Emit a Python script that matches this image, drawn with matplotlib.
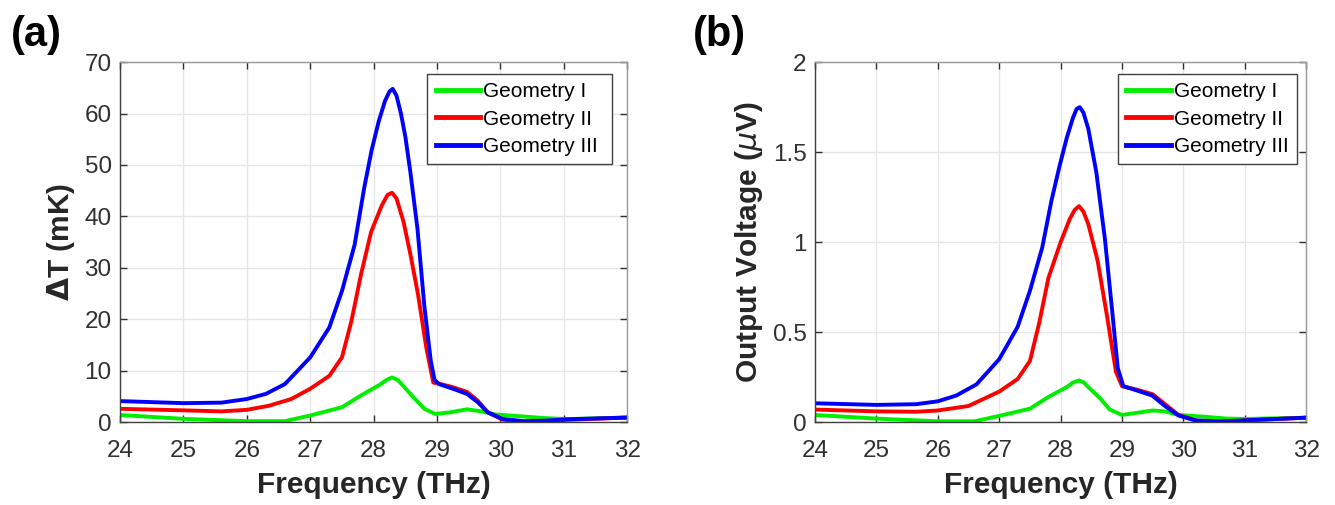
import numpy as np
import matplotlib
matplotlib.use('Agg')
import matplotlib.pyplot as plt

plt.rcParams['font.family'] = ['Liberation Sans', 'DejaVu Sans']
plt.rcParams['mathtext.fontset'] = 'dejavusans'

labels = ['Geometry I', 'Geometry II', 'Geometry III']
colors = ['#00ee00', '#ff0000', '#0000ff']

# (a) Delta T (mK)
x_g1 = [24, 25, 26, 26.6, 27, 27.5, 27.8, 28.1, 28.2, 28.29, 28.38, 28.47, 28.63, 28.8, 28.97, 29.2, 29.47, 29.7, 29.92, 30.36, 30.7, 31.03, 32]
dt_g1 = [1.4, 0.65, 0.2, 0.2, 1.3, 2.9, 5.2, 7.3, 8.2, 8.7, 8.2, 7.0, 4.8, 2.6, 1.6, 1.9, 2.5, 2.1, 1.5, 1.1, 0.8, 0.6, 0.9]
x_g2 = [24, 25, 25.6, 26, 26.35, 26.7, 27, 27.3, 27.5, 27.65, 27.8, 27.96, 28.13, 28.22, 28.29, 28.36, 28.47, 28.58, 28.7, 28.83, 28.94, 29.03, 29.25, 29.47, 29.64, 29.8, 30.03, 30.4, 30.8, 31.03, 32]
dt_g2 = [2.6, 2.3, 2.1, 2.4, 3.2, 4.5, 6.5, 9, 12.6, 19.7, 28.7, 37, 42.2, 44.2, 44.6, 43.5, 39, 32.6, 24.8, 14.5, 7.7, 7.5, 6.8, 5.9, 4.2, 1.9, 0.5, 0.0, 0.1, 0.45, 0.9]
x_g3 = [24, 25, 25.6, 26, 26.3, 26.6, 27, 27.3, 27.5, 27.7, 27.85, 27.97, 28.08, 28.18, 28.25, 28.3, 28.36, 28.43, 28.5, 28.58, 28.69, 28.8, 28.9, 28.96, 29.03, 29.25, 29.47, 29.64, 29.8, 30.03, 30.36, 30.7, 31.03, 32]
dt_g3 = [4.1, 3.7, 3.8, 4.5, 5.5, 7.4, 12.6, 18.4, 25.5, 34.5, 45.5, 53, 58.5, 62.5, 64.3, 64.8, 63.5, 60, 55.5, 48.5, 37.7, 22.5, 12, 8.2, 7.4, 6.5, 5.5, 3.9, 1.9, 0.65, 0.2, 0.3, 0.55, 0.9]

# (b) Output voltage (uV)
xv_g1 = [24, 25, 26, 26.6, 27, 27.5, 27.8, 28.1, 28.2, 28.3, 28.38, 28.45, 28.65, 28.8, 29, 29.2, 29.5, 29.7, 29.92, 30.35, 30.7, 31, 32]
v_g1 = [0.04, 0.02, 0.005, 0.005, 0.035, 0.075, 0.14, 0.195, 0.22, 0.232, 0.22, 0.195, 0.13, 0.07, 0.04, 0.05, 0.065, 0.06, 0.04, 0.03, 0.02, 0.018, 0.025]
xv_g2 = [24, 25, 25.65, 26, 26.5, 27, 27.3, 27.5, 27.65, 27.8, 28, 28.15, 28.23, 28.3, 28.37, 28.45, 28.6, 28.75, 28.9, 29, 29.25, 29.5, 29.7, 29.92, 30.3, 30.6, 31, 32]
v_g2 = [0.07, 0.06, 0.058, 0.065, 0.09, 0.17, 0.24, 0.34, 0.55, 0.8, 1.0, 1.13, 1.18, 1.2, 1.17, 1.1, 0.9, 0.6, 0.28, 0.2, 0.18, 0.155, 0.1, 0.04, 0.0, -0.005, 0.01, 0.025]
xv_g3 = [24, 25, 25.65, 26, 26.3, 26.63, 27, 27.3, 27.5, 27.7, 27.85, 27.98, 28.1, 28.2, 28.26, 28.31, 28.37, 28.45, 28.58, 28.72, 28.85, 28.93, 29.02, 29.25, 29.49, 29.69, 29.92, 30.19, 30.6, 31, 32]
v_g3 = [0.105, 0.096, 0.1, 0.116, 0.148, 0.21, 0.35, 0.53, 0.73, 0.97, 1.23, 1.42, 1.58, 1.69, 1.74, 1.75, 1.72, 1.63, 1.39, 1.02, 0.58, 0.3, 0.2, 0.175, 0.148, 0.092, 0.037, 0.01, 0.004, 0.01, 0.025]

xticks = [24, 25, 26, 27, 28, 29, 30, 31, 32]


def style_axes(ax, ylim, yticks, ylabel, label_x, leg_box):
    ax.set_xlim(24, 32)
    ax.set_ylim(*ylim)
    ax.set_xticks(xticks)
    ax.set_yticks(yticks)
    ax.grid(True, color='#e6e6e6', linewidth=1.0)
    ax.set_axisbelow(True)
    ax.tick_params(direction='in', top=True, right=True, labelsize=17.5,
                   colors='#303030', length=5, width=1)
    ax.tick_params(axis='x', pad=13)
    ax.tick_params(axis='y', pad=6)
    for name, s in ax.spines.items():
        s.set_linewidth(1.0)
        s.set_color('#404040' if name in ('left', 'bottom') else '#9a9a9a')
    ax.set_xlabel('Frequency (THz)', fontsize=21.5, fontweight='bold',
                  color='#262626', labelpad=6)
    ax.set_ylabel(ylabel, fontsize=21.5, fontweight='bold', color='#262626')
    ax.yaxis.set_label_coords(label_x, 0.5)
    leg = ax.legend(loc='upper left', bbox_to_anchor=leg_box, mode='expand',
                    fontsize=15, frameon=True, fancybox=False,
                    edgecolor='#404040', framealpha=1, handlelength=2.15,
                    handletextpad=0.15, borderpad=0.4, labelspacing=0.4,
                    borderaxespad=0)
    leg.get_frame().set_linewidth(1.0)
    for line in leg.get_lines():
        line.set_linewidth(3.5)


fig = plt.figure(figsize=(13.35, 5.05), dpi=100)
ax1 = fig.add_axes([0.0899, 0.164, 0.380, 0.713])
ax2 = fig.add_axes([0.6105, 0.164, 0.368, 0.713])

for xs, ys, c, l in zip([x_g1, x_g2, x_g3], [dt_g1, dt_g2, dt_g3], colors, labels):
    ax1.plot(xs, ys, color=c, linewidth=2.8, label=l, solid_joinstyle='round')
for xs, ys, c, l in zip([xv_g1, xv_g2, xv_g3], [v_g1, v_g2, v_g3], colors, labels):
    ax2.plot(xs, ys, color=c, linewidth=2.8, label=l, solid_joinstyle='round')

style_axes(ax1, (0, 70), [0, 10, 20, 30, 40, 50, 60, 70],
           r'$\mathbf{\Delta}$T (mK)', -0.085, (0.6055, 0.0, 0.3645, 0.967))
style_axes(ax2, (0, 2), [0, 0.5, 1, 1.5, 2],
           r'Output Voltage ($\mu$V)', -0.102, (0.616, 0.0, 0.366, 0.967))
ax2.set_yticklabels(['0', '0.5', '1', '1.5', '2'])

fig.text(0.008, 0.93, '(a)', fontsize=30, fontweight='bold', va='center')
fig.text(0.519, 0.93, '(b)', fontsize=30, fontweight='bold', va='center')

fig.savefig('out.png', dpi=100)
